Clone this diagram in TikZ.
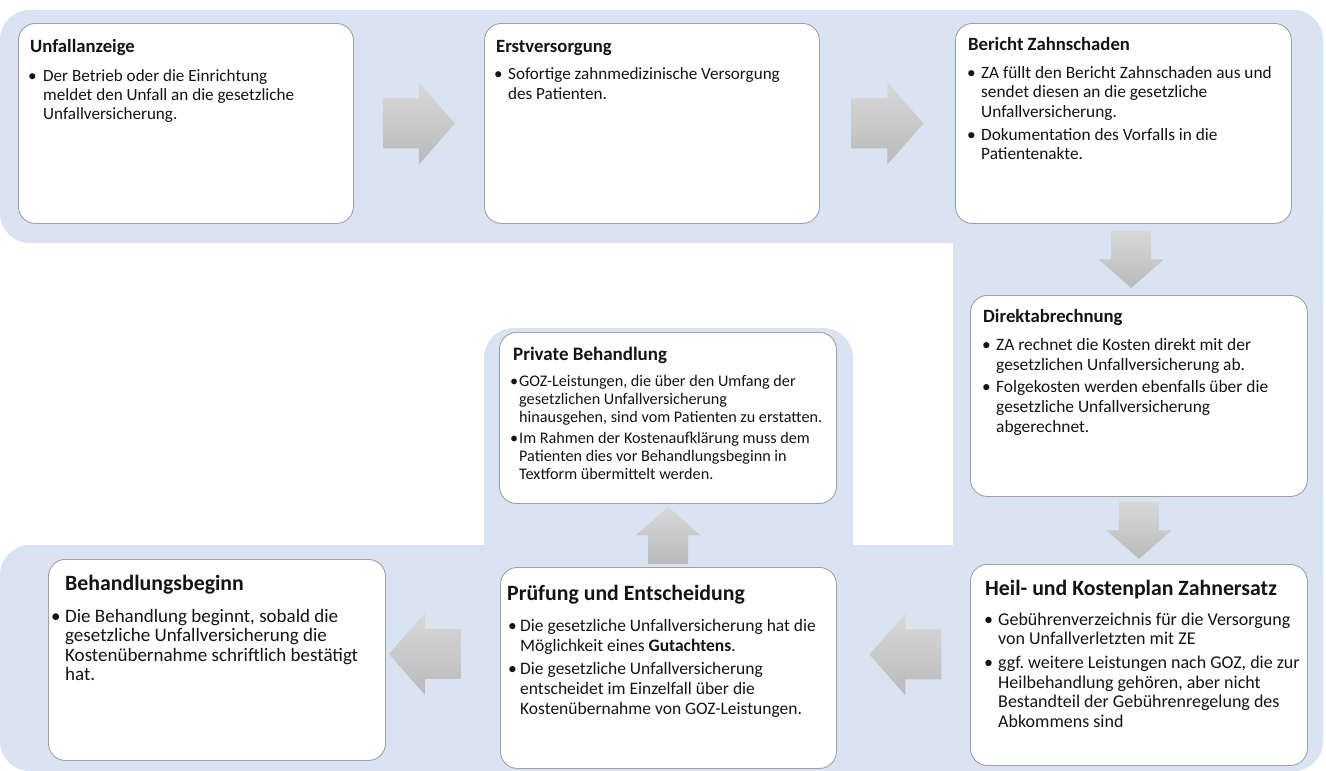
\documentclass[tikz,border=0pt]{standalone}
\usepackage{fontspec}
\setmainfont{Carlito}
\usetikzlibrary{calc}
\frenchspacing
\definecolor{band}{RGB}{218,227,241}
\definecolor{boxline}{RGB}{160,160,160}
\definecolor{txtc}{RGB}{20,20,20}
\definecolor{arrtop}{RGB}{216,216,216}
\definecolor{arrbot}{RGB}{186,186,186}
\newlength\bulx
\newlength\txtx
\newcommand\nl{\hfil\break}
\newcommand\itm[2]{\par\vskip#1\relax\hangindent=\txtx\hangafter=1\noindent\hbox to\txtx{\hskip\bulx\textbullet\hfil}#2\par}
\newcommand\ttl[3]{\noindent\hskip#1\relax{\fontsize{#2}{#2}\selectfont\bfseries #3}\par}
\newcommand\bfont[2]{\fontsize{#1}{#2}\selectfont}
\newcommand\vt[1]{\vtop{\hsize=350pt\parindent=0pt\parskip=0pt\lineskiplimit=-100pt\lineskip=0pt\rightskip=0pt plus 1fil\frenchspacing #1}}
\tikzset{
  wbox/.style={draw=boxline, fill=white, line width=0.9pt, rounded corners=17pt, inner sep=0pt, anchor=north west},
  btxt/.style={inner sep=0pt, anchor=base west, text=txtc},
  arr/.style={top color=arrtop, bottom color=arrbot, draw=none},
  bandfill/.style={fill=band, draw=none, rounded corners=30pt},
  rarrow/.pic={\shade[arr] (-36,-25) -- (0,-25) -- (0,-41) -- (36,0) -- (0,41) -- (0,25) -- (-36,25) -- cycle;},
  larrow/.pic={\shade[arr] (36,-25) -- (0,-25) -- (0,-41) -- (-36,0) -- (0,41) -- (0,25) -- (36,25) -- cycle;},
  darrow/.pic={\shade[arr] (-20,-28.5) -- (20,-28.5) -- (20,0) -- (32.5,0) -- (0,28.5) -- (-32.5,0) -- (-20,0) -- cycle;},
  uarrow/.pic={\shade[arr] (-20,28.5) -- (20,28.5) -- (20,0) -- (32.5,0) -- (0,-28.5) -- (-32.5,0) -- (-20,0) -- cycle;}
}
\begin{document}
\begin{tikzpicture}[x=1pt,y=-1pt]
\useasboundingbox (0,0) rectangle (1326,771);
\fill[white] (0,0) rectangle (1326,771);
% background bands
\fill[bandfill] (0,10) rectangle (1323,243);
\fill[bandfill] (953,10) rectangle (1323,771);
\fill[bandfill] (0,545) rectangle (1323,771);
\fill[bandfill] (484,328) rectangle (853,580);
% boxes
\node[wbox, minimum width=335pt, minimum height=200pt] (unf) at (18,23) {};
\node[wbox, minimum width=335pt, minimum height=200pt] (erst) at (484,23) {};
\node[wbox, minimum width=336pt, minimum height=200pt] (ber) at (955,23) {};
\node[wbox, minimum width=337pt, minimum height=201pt] (dir) at (970,295) {};
\node[wbox, minimum width=337pt, minimum height=201pt] (heil) at (970,564) {};
\node[wbox, minimum width=337pt, minimum height=171pt] (priv) at (499,332) {};
\node[wbox, minimum width=336pt, minimum height=201pt] (pruef) at (500,567) {};
\node[wbox, minimum width=337pt, minimum height=201pt] (beh) at (48,559) {};
% texts
\node[btxt] (unf-t) at ($(unf.north west)+(0,29)$) {\vt{\bulx=10pt\txtx=25pt
  \ttl{12pt}{18.7}{Unfallanzeige}
  \bfont{17.1}{19}
  \itm{10pt}{Der Betrieb oder die Einrichtung\nl meldet den Unfall an die gesetzliche\nl Unfallversicherung.}}};
\node[btxt] (erst-t) at ($(erst.north west)+(0,29)$) {\vt{\bulx=10pt\txtx=24pt
  \ttl{12pt}{18.7}{Erstversorgung}
  \bfont{17.1}{19.5}
  \itm{8.5pt}{Sofortige zahnmedizinische Versorgung\nl des Patienten.}}};
\node[btxt] (ber-t) at ($(ber.north west)+(0,27)$) {\vt{\bulx=12pt\txtx=26pt
  \ttl{13pt}{18.7}{Bericht Zahnschaden}
  \bfont{17.3}{19.5}
  \itm{8.5pt}{ZA füllt den Bericht Zahnschaden aus und\nl sendet diesen an die gesetzliche\nl Unfallversicherung.}
  \itm{3.5pt}{Dokumentation des Vorfalls in die\nl Patientenakte.}}};
\node[btxt] (dir-t) at ($(dir.north west)+(0,27)$) {\vt{\bulx=12pt\txtx=26pt
  \ttl{13pt}{18.7}{Direktabrechnung}
  \bfont{17.4}{20}
  \itm{8pt}{ZA rechnet die Kosten direkt mit der\nl gesetzlichen Unfallversicherung ab.}
  \itm{2pt}{Folgekosten werden ebenfalls über die\nl gesetzliche Unfallversicherung\nl abgerechnet.}}};
\node[btxt] (heil-t) at ($(heil.north west)+(0,31)$) {\vt{\bulx=14pt\txtx=28pt
  \ttl{15pt}{21.8}{Heil- und Kostenplan Zahnersatz}
  \bfont{18}{19.5}
  \itm{10.5pt}{Gebührenverzeichnis für die Versorgung\nl von Unfallverletzten mit ZE}
  \itm{4.5pt}{ggf. weitere Leistungen nach GOZ, die zur\nl Heilbehandlung gehören, aber nicht\nl Bestandteil der Gebührenregelung des\nl Abkommens sind}}};
\node[btxt] (priv-t) at ($(priv.north west)+(0,28)$) {\vt{\bulx=11pt\txtx=20pt
  \ttl{14pt}{19}{Private Behandlung}
  \bfont{16.2}{18}
  \itm{8pt}{GOZ-Leistungen, die über den Umfang der\nl gesetzlichen Unfallversicherung\nl hinausgehen, sind vom Patienten zu erstatten.}
  \itm{3pt}{Im Rahmen der Kostenaufklärung muss dem\nl Patienten dies vor Behandlungsbeginn in\nl Textform übermittelt werden.}}};
\node[btxt] (pruef-t) at ($(pruef.north west)+(0,33)$) {\vt{\bulx=8pt\txtx=20pt
  \ttl{7pt}{21.8}{Prüfung und Entscheidung}
  \bfont{17.5}{20}
  \itm{11pt}{Die gesetzliche Unfallversicherung hat die\nl Möglichkeit eines {\bfseries Gutachtens}.}
  \itm{3pt}{Die gesetzliche Unfallversicherung\nl entscheidet im Einzelfall über die\nl Kostenübernahme von GOZ-Leistungen.}}};
\node[btxt] (beh-t) at ($(beh.north west)+(0,31)$) {\vt{\bulx=3pt\txtx=17pt
  \ttl{17pt}{21.8}{Behandlungsbeginn}
  \bfont{19}{19.5}
  \itm{12.5pt}{Die Behandlung beginnt, sobald die\nl gesetzliche Unfallversicherung die\nl Kostenübernahme schriftlich bestätigt\nl hat.}}};
% block arrows between steps
\coordinate (a1) at ($(unf.east)!0.5!(erst.west)$);
\coordinate (a2) at ($(erst.east)!0.5!(ber.west)$);
\coordinate (a3) at ($(ber.south)!0.5!(dir.north)$);
\coordinate (a4) at ($(dir.south)!0.5!(heil.north)$);
\coordinate (a5) at ($(pruef.east)!0.5!(heil.west)+(2,-12)$);
\coordinate (a6) at ($(beh.east)!0.5!(pruef.west)+(-18,-10)$);
\coordinate (a7) at ($(pruef.north)!0.5!(priv.south)$);
\pic at (a1) {rarrow};
\pic at (a2) {rarrow};
\pic at (a3) {darrow};
\pic at (a4) {darrow};
\pic at (a5) {larrow};
\pic at (a6) {larrow};
\pic at (a7) {uarrow};
\end{tikzpicture}
\end{document}
